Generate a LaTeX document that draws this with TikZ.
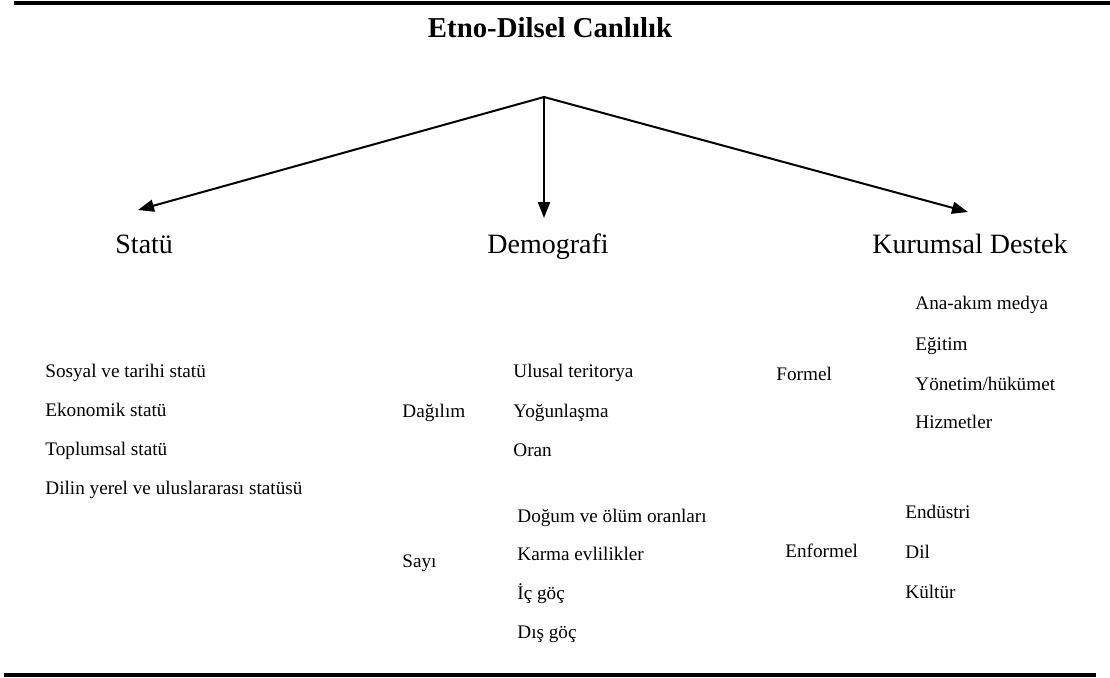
\documentclass[tikz,border=0pt]{standalone}
\usepackage{fontspec}
\setmainfont{Liberation Serif}
\usetikzlibrary{arrows.meta}

\begin{document}
\begin{tikzpicture}[x=0.5pt, y=-0.5pt,
    heading/.style={anchor=base, inner sep=0pt, font=\fontsize{14.4}{16}\selectfont\bfseries},
    dimension/.style={anchor=base west, inner sep=0pt, font=\fontsize{14}{16}\selectfont},
    factor/.style={anchor=base west, inner sep=0pt, font=\fontsize{9.6}{12}\selectfont},
    rule/.style={line width=2pt},
    branch/.style={line width=1pt, -{Triangle[length=8pt,width=6pt]}}]
    \useasboundingbox (0,0) rectangle (1110,677);

    \draw[rule] (14,3) -- (1110,3);
    \draw[rule] (4,675) -- (1096,675);

    \node[heading] (title) at (550,37) {Etno-Dilsel Canlılık};

    \coordinate (apex) at (544,97);
    \coordinate (tipStatu) at (138,210);
    \coordinate (tipDemo) at (544,218);
    \coordinate (tipKurum) at (968,212);

    \node[dimension] (statu) at (115,253) {Statü};
    \node[dimension] (demo) at (487,253) {Demografi};
    \node[dimension] (kurum) at (872,253) {Kurumsal Destek};

    \draw[branch] (apex) -- (tipStatu);
    \draw[branch] (apex) -- (tipDemo);
    \draw[branch] (apex) -- (tipKurum);

    % Statu
    \node[factor] (sosyal) at (45,377) {Sosyal ve tarihi statü};
    \node[factor] (ekonomik) at (45,416) {Ekonomik statü};
    \node[factor] (toplumsal) at (45,455) {Toplumsal statü};
    \node[factor] (dilin) at (45,494) {Dilin yerel ve uluslararası statüsü};

    % Demografi
    \node[factor] (dagilim) at (402,417) {Dağılım};
    \node[factor] (ulusal) at (513,377) {Ulusal teritorya};
    \node[factor] (yogun) at (513,417) {Yoğunlaşma};
    \node[factor] (oran) at (513,456) {Oran};

    \node[factor] (sayi) at (402,567) {Sayı};
    \node[factor] (dogum) at (517,522) {Doğum ve ölüm oranları};
    \node[factor] (karma) at (517,560) {Karma evlilikler};
    \node[factor] (icgoc) at (517,599) {İç göç};
    \node[factor] (disgoc) at (517,638) {Dış göç};

    % Kurumsal destek
    \node[factor] (formel) at (776,380) {Formel};
    \node[factor] (medya) at (915,309) {Ana-akım medya};
    \node[factor] (egitim) at (915,350) {Eğitim};
    \node[factor] (yonetim) at (915,390) {Yönetim/hükümet};
    \node[factor] (hizmet) at (915,428) {Hizmetler};

    \node[factor] (enformel) at (785,557) {Enformel};
    \node[factor] (endustri) at (905,518) {Endüstri};
    \node[factor] (dil) at (905,558) {Dil};
    \node[factor] (kultur) at (905,598) {Kültür};
\end{tikzpicture}
\end{document}
